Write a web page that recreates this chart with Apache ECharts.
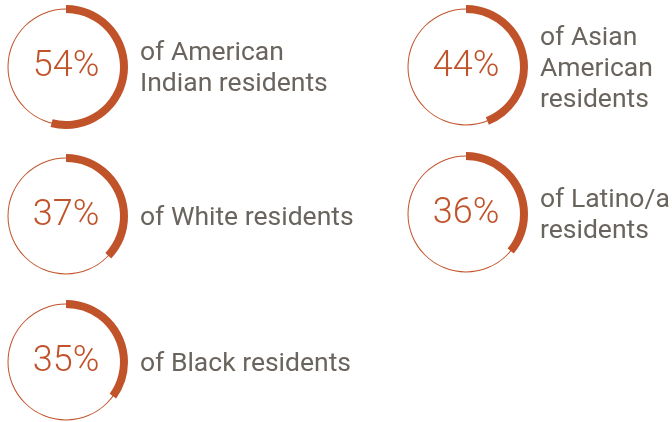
<!DOCTYPE html>
<html lang="en">
<head>
    <meta charset="UTF-8">
    <title>Share of residents by group</title>
    <script type="text/javascript" src="https://cdn.jsdelivr.net/npm/echarts@6/dist/echarts.min.js"></script>
    <style>
        html, body { margin: 0; padding: 0; background: #fff; }
    </style>
</head>
<body>
    <div id="main" style="width: 672px; height: 422px"></div>
    <script>
        // values
        var groups = ['American Indian', 'Asian American', 'White', 'Latino/a', 'Black'];
        var shares = [54, 44, 37, 36, 35];
        var captions = [
            'of American\nIndian residents',
            'of Asian\nAmerican\nresidents',
            'of White residents',
            'of Latino/a\nresidents',
            'of Black residents'
        ];

        // layout of each ring (centre in px)
        var centers = [[66, 67], [466, 67], [66, 216], [466, 214], [66, 362]];

        var orange = '#c1532b';
        var grey = '#6a645e';

        var myChart = echarts.init(document.getElementById('main'));

        var series = [];
        var graphic = [];

        groups.forEach(function (g, i) {
            // thin full circle
            series.push({
                name: g + ' ring',
                type: 'pie',
                center: centers[i],
                radius: [57.5, 58.5],
                silent: true,
                label: { show: false },
                labelLine: { show: false },
                animation: false,
                data: [{ value: 100, itemStyle: { color: orange } }]
            });
            // thick arc for the share
            series.push({
                name: g,
                type: 'pie',
                center: centers[i],
                radius: [54, 62],
                startAngle: 90,
                clockwise: true,
                silent: true,
                animation: false,
                label: {
                    show: true,
                    position: 'center',
                    formatter: function () { return shares[i] + '%'; },
                    fontFamily: 'Roboto',
                    fontWeight: 300,
                    fontSize: 36,
                    color: orange,
                    padding: [3, 0, 0, 0]
                },
                labelLine: { show: false },
                emphasis: { disabled: true },
                data: [
                    { value: shares[i], itemStyle: { color: orange } },
                    { value: 100 - shares[i], itemStyle: { color: 'rgba(0,0,0,0)' }, label: { show: false } }
                ]
            });
            // caption to the right of the ring
            graphic.push({
                type: 'text',
                x: centers[i][0] + 74,
                y: centers[i][1] + 2,
                style: {
                    text: captions[i],
                    fontFamily: 'Roboto',
                    fontSize: 26.5,
                    lineHeight: 31,
                    fill: grey,
                    verticalAlign: 'middle'
                }
            });
        });

        myChart.setOption({
            backgroundColor: '#fff',
            series: series,
            graphic: graphic
        });
    </script>
</body>
</html>
